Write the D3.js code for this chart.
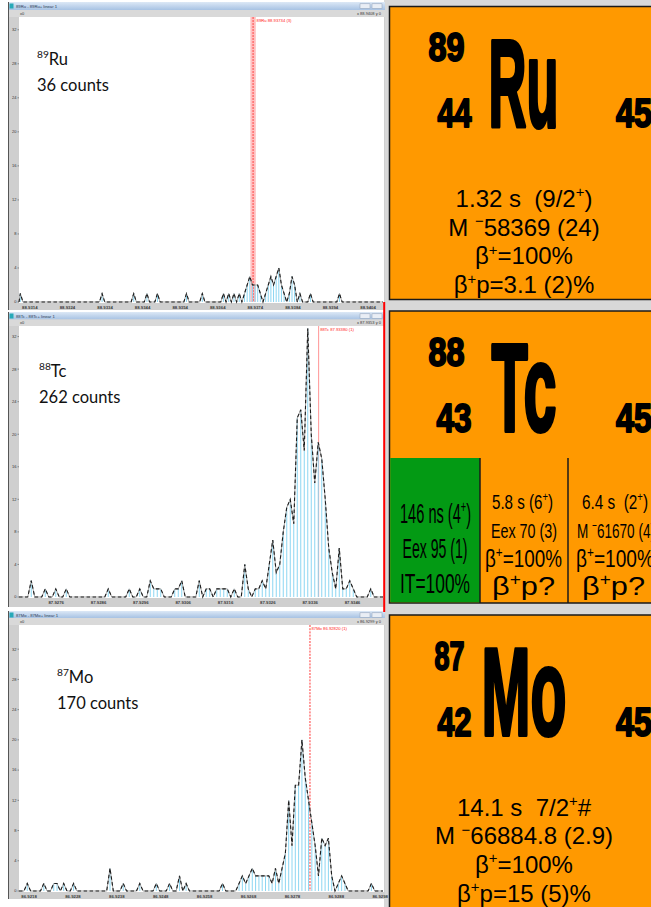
<!DOCTYPE html>
<html>
<head>
<meta charset="utf-8">
<script src="https://cdn.jsdelivr.net/npm/d3@7"></script>
<style>
  html, body { margin: 0; padding: 0; background: #ffffff; }
  svg { display: block; }
</style>
</head>
<body>
<script>
// ---- Spectrum data: counts per bin --------------------------------------
const ruCounts = [
  1,0,0,0,0,0,0,0,0,0,
  0,0,0,0,0,0,0,0,0,0,
  0,0,0,0,0,0,0,0,0,0,
  0,1,0,0,0,0,0,0,0,0,
  0,0,0,1,0,0,0,0,1,0,
  0,0,1,0,0,0,0,0,0,0,
  0,0,0,1,0,0,0,0,0,1,
  0,0,0,0,0,0,0,1,0,1,
  0,1,0,1,0,1,2,3,2,2,
  2,1,0,1,2,3,2,3,4,2,
  1,0,1,3,2,0,1,0,0,0,
  1,0,0,0,0,0,0,0,0,0,
  0,1,0,0,0,0,0,0,0,0,
  0,0,0,0,0,0,0,0
];
const tcCounts = [
  0,0,0,2,0,0,0,1,0,0,
  1,0,0,1,0,0,0,0,0,0,
  0,0,0,0,0,1,0,0,0,0,
  0,1,0,0,1,0,0,2,1,1,
  1,0,0,0,1,1,2,0,0,0,
  0,2,0,1,1,0,1,1,1,1,
  0,1,0,0,4,1,0,1,1,2,
  1,4,7,3,4,8,11,12,9,22,
  23,18,33,20,14,19,17,12,6,3,
  1,6,1,1,2,1,0,0,0,0,
  1,0,0,0
];
const moCounts = [
  0,0,1,0,0,0,0,1,0,0,
  1,1,0,1,0,0,1,0,0,0,
  0,0,0,0,0,0,0,3,0,0,
  0,1,0,0,0,0,1,0,0,0,
  0,1,0,0,0,1,0,0,2,0,
  1,0,0,0,0,0,0,0,0,0,
  0,1,0,0,0,0,1,2,1,2,
  3,2,2,2,2,2,1,3,1,3,
  5,12,6,14,14,20,15,12,9,6,
  2,7,6,7,2,0,1,2,1,0,
  0,0,0,0,0,0,1,0,0,0
];

// Mass axis of each spectrum (u): first bin edge and bin width
const ruMassStart = 88.93111, ruBinWidth = 0.0000702;
const tcMassStart = 87.92672, tcBinWidth = 0.0000827;
const moMassStart = 86.92157, moBinWidth = 0.0000754;

// Axis ticks
const yTickValues = [0, 4, 8, 12, 16, 20, 24, 28, 32];
const ruYMax = 33.5, tcYMax = 33.3, moYMax = 35.2;
const ruXTicks = [88.9314, 88.9324, 88.9334, 88.9344, 88.9354, 88.9364, 88.9374, 88.9384, 88.9394, 88.9404];
const tcXTicks = [87.9276, 87.9286, 87.9296, 87.9306, 87.9316, 87.9326, 87.9336, 87.9346];
const moXTicks = [86.9218, 86.9228, 86.9238, 86.9248, 86.9258, 86.9268, 86.9278, 86.9288, 86.9298];

// Reference masses (u) marked in red
const ruRefMass = 88.93734;
const tcRefMass = 87.93380;
const moRefMass = 86.92820;

// Nuclide labels
const nuclideMass = ["89", "88", "87"];
const nuclideSymbol = ["Ru", "Tc", "Mo"];
const nuclideZ = ["44", "43", "42"];
const totalCounts = [36, 262, 170];

// -------------------------------------------------------------------------
const W = 651, H = 907;
const svg = d3.select("body").append("svg").attr("width", W).attr("height", H);

const defs = svg.append("defs");
const grad = defs.append("linearGradient").attr("id", "titleGrad")
  .attr("x1", 0).attr("y1", 0).attr("x2", 0).attr("y2", 1);
grad.append("stop").attr("offset", 0).attr("stop-color", "#dce8f6");
grad.append("stop").attr("offset", 1).attr("stop-color", "#a7c2e3");

const NARROW = "'Liberation Sans Narrow', 'Liberation Sans', Arial, sans-serif";
const SANS = "'Liberation Sans', Arial, sans-serif";
const LABEL = "Lato, 'Open Sans', sans-serif";

// text with superscript pieces: plain strings are normal, [str] is superscript
function richText(g, x, y, parts, o) {
  const t = g.append("text")
    .attr("x", x).attr("y", y)
    .attr("font-family", o.family).attr("font-size", o.size)
    .attr("font-weight", o.weight || 400)
    .attr("fill", o.fill || "#000")
    .attr("text-anchor", o.anchor || "start")
    .style("white-space", "pre");
  let shifted = 0;
  parts.forEach(p => {
    const sup = Array.isArray(p);
    const ts = t.append("tspan").text(sup ? p[0] : p);
    const want = sup ? -o.size * 0.4 : 0;
    if (want !== shifted) { ts.attr("dy", want - shifted); shifted = want; }
    if (sup) ts.attr("font-size", o.size * (o.supScale || 0.62));
  });
  if (o.width) t.attr("textLength", o.width).attr("lengthAdjust", "spacingAndGlyphs");
  if (o.stroke) t.attr("stroke", o.fill || "#000").attr("stroke-width", o.stroke).attr("stroke-linejoin", "round");
  return t;
}

// right-hand column background
svg.append("rect").attr("x", 384).attr("y", 0).attr("width", W - 384).attr("height", H).attr("fill", "#d8d8d8");

// ---- Spectrum panels ------------------------------------------------------
const panels = [
  { counts: ruCounts, start: ruMassStart, bw: ruBinWidth, yMax: ruYMax, xTicks: ruXTicks, ref: ruRefMass,
    refText: "89Ru  88.93734 (3)", title: "89Ru - 89Ru+  linear 1", band: true,
    top: 2, strip: 10, plotTop: 17, base: 302, bottom: 310, labelX: 37, labelY: 65 },
  { counts: tcCounts, start: tcMassStart, bw: tcBinWidth, yMax: tcYMax, xTicks: tcXTicks, ref: tcRefMass,
    refText: "88Tc  87.93380 (1)", title: "88Tc - 88Tc+  linear 1", band: false,
    top: 312, strip: 319.5, plotTop: 326, base: 597, bottom: 607, labelX: 39, labelY: 377 },
  { counts: moCounts, start: moMassStart, bw: moBinWidth, yMax: moYMax, xTicks: moXTicks, ref: moRefMass,
    refText: "87Mo  86.92820 (1)", title: "87Mo - 87Mo+  linear 1", band: false, dashedRef: true,
    top: 611, strip: 618, plotTop: 625, base: 891, bottom: 899, labelX: 57, labelY: 683 }
];

const PL = 8, PX0 = 19, PX1 = 383, PR = 385;
const fmt = d3.format(".4f");

panels.forEach((p, k) => {
  const g = svg.append("g");
  const n = p.counts.length;
  const x = d3.scaleLinear().domain([p.start, p.start + n * p.bw]).range([PX0, PX1]);
  const y = d3.scaleLinear().domain([0, p.yMax]).range([p.base, p.plotTop]);
  const bins = p.counts.map((c, i) => ({ m: p.start + (i + 0.5) * p.bw, c }));

  // window frame
  g.append("rect").attr("x", PL).attr("y", p.top).attr("width", PR - PL).attr("height", p.bottom - p.top).attr("fill", "#cfcfcf");
  g.append("rect").attr("x", PL).attr("y", p.top).attr("width", PR - PL).attr("height", p.strip - p.top).attr("fill", "url(#titleGrad)");
  g.append("rect").attr("x", 9.5).attr("y", p.top + 1.5).attr("width", 4).attr("height", 5).attr("fill", "#27a9b8");
  g.append("text").attr("x", 16).attr("y", p.top + 6).attr("font-family", SANS).attr("font-size", 4.2).attr("fill", "#2b3a55").text(p.title);
  g.append("rect").attr("x", 360).attr("y", p.top + 1.8).attr("width", 10).attr("height", 4.6).attr("fill", "#e9eef5").attr("stroke", "#8a9bb3").attr("stroke-width", 0.5);
  g.append("rect").attr("x", 372).attr("y", p.top + 1.8).attr("width", 10).attr("height", 4.6).attr("fill", "#e9eef5").attr("stroke", "#8a9bb3").attr("stroke-width", 0.5);
  g.append("rect").attr("x", PL).attr("y", p.strip).attr("width", PR - PL).attr("height", p.plotTop - p.strip).attr("fill", "#d9d9d9");
  g.append("text").attr("x", 20).attr("y", p.plotTop - 1.6).attr("font-family", SANS).attr("font-size", 4).attr("fill", "#333").text("x0");
  g.append("text").attr("x", 381).attr("y", p.plotTop - 1.6).attr("text-anchor", "end").attr("font-family", SANS).attr("font-size", 4).attr("fill", "#333")
    .text("x " + fmt(p.start + n * p.bw) + "  y 0");
  g.append("line").attr("x1", PL + 0.5).attr("x2", PL + 0.5).attr("y1", p.top).attr("y2", p.bottom).attr("stroke", "#555").attr("stroke-width", 1);

  // plot area
  g.append("rect").attr("x", PX0).attr("y", p.plotTop).attr("width", PR - PX0 - 1).attr("height", p.base - p.plotTop + 1).attr("fill", "#ffffff");

  // y axis
  yTickValues.forEach(v => {
    g.append("line").attr("x1", PX0 - 1.5).attr("x2", PX0).attr("y1", y(v)).attr("y2", y(v)).attr("stroke", "#555").attr("stroke-width", 0.6);
    g.append("text").attr("x", PX0 - 2.5).attr("y", y(v) + 1.4).attr("text-anchor", "end")
      .attr("font-family", SANS).attr("font-size", 4).attr("fill", "#333").text(v);
  });

  // x axis labels
  p.xTicks.forEach(v => {
    g.append("text").attr("x", x(v)).attr("y", p.base + 6.5).attr("text-anchor", "middle")
      .attr("font-family", SANS).attr("font-size", 4.3).attr("font-weight", 700).attr("fill", "#3a3a3a").text(fmt(v));
  });

  // reference mass marker
  const rx = x(p.ref);
  if (p.band) {
    g.append("rect").attr("x", rx - 2.7).attr("y", p.plotTop).attr("width", 5.4).attr("height", p.base - p.plotTop)
      .attr("fill", "#ff8c8c").attr("opacity", 0.55);
    g.append("line").attr("x1", rx).attr("x2", rx).attr("y1", p.plotTop).attr("y2", p.base)
      .attr("stroke", "#ff2a2a").attr("stroke-width", 0.8).attr("stroke-dasharray", "2,1");
  } else {
    g.append("line").attr("x1", rx).attr("x2", rx).attr("y1", p.plotTop).attr("y2", p.base)
      .attr("stroke", p.dashedRef ? "#ff2020" : "#ff7a7a").attr("stroke-width", p.dashedRef ? 0.9 : 0.8)
      .attr("stroke-dasharray", p.dashedRef ? "2,1.2" : null);
  }
  g.append("text").attr("x", rx + (p.band ? 3.5 : 1.5)).attr("y", p.plotTop + 5).attr("font-family", SANS)
    .attr("font-size", 4.2).attr("fill", "#ff2020").text(p.refText);

  // bin stems
  g.selectAll("line.stem").data(bins.filter(b => b.c > 0)).join("line").attr("class", "stem")
    .attr("x1", b => x(b.m)).attr("x2", b => x(b.m))
    .attr("y1", p.base).attr("y2", b => y(b.c))
    .attr("stroke", "#8cd6f2").attr("stroke-width", 1);

  // spectrum trace: grey solid under black dashes
  const line = d3.line().x(b => x(b.m)).y(b => y(b.c));
  const pts = [{ m: p.start, c: 0 }, ...bins, { m: p.start + n * p.bw, c: 0 }];
  g.append("path").datum(pts).attr("d", line).attr("fill", "none").attr("stroke", "#a3a3a3").attr("stroke-width", 1);
  g.append("path").datum(pts).attr("d", line).attr("fill", "none").attr("stroke", "#1c1c1c")
    .attr("stroke-width", 1.1).attr("stroke-dasharray", "3.5,2.5");

  // nuclide label and count total
  richText(g, p.labelX, p.labelY, [[nuclideMass[k]], nuclideSymbol[k]],
    { family: LABEL, size: 16.5, fill: "#111", supScale: 0.62 });
  richText(g, p.labelX, p.labelY + 26, [totalCounts[k] + " counts"],
    { family: LABEL, size: 16.5, fill: "#111" });
});

// red frame edge beside the middle spectrum
svg.append("rect").attr("x", 383.2).attr("y", 302).attr("width", 2).attr("height", 310).attr("fill", "#ff0000");

// ---- Nuclide cards --------------------------------------------------------
const CX = 389.5, CW = 275, CC = 524;
const cards = [
  { top: 6.5, bottom: 299.5, symX: 488.5, symW: 70, massW: 36, zW: 34,
    lines: [
      ["1.32 s  (9/2", ["+"], ")"],
      ["M ", ["\u2212"], "58369 (24)"],
      ["\u03b2", ["+"], "=100%"],
      ["\u03b2", ["+"], "p=3.1 (2)%"]
    ] },
  { top: 311, bottom: 603, symX: 491.5, symW: 65, massW: 36, zW: 35, lines: null },
  { top: 615, bottom: 920, symX: 481.5, symW: 85, massW: 30, zW: 34,
    lines: [
      ["14.1 s  7/2", ["+"], "#"],
      ["M ", ["\u2212"], "66884.8 (2.9)"],
      ["\u03b2", ["+"], "=100%"],
      ["\u03b2", ["+"], "p=15 (5)%"]
    ] }
];

cards.forEach((c, k) => {
  const g = svg.append("g");
  g.append("rect").attr("x", CX).attr("y", c.top).attr("width", CW).attr("height", c.bottom - c.top)
    .attr("fill", "#ff9900").attr("stroke", "#1a1a1a").attr("stroke-width", 1.5);

  const t = c.top;
  // mass number, atomic number, symbol, neutron number
  richText(g, 464.5, t + 54.5, [nuclideMass[k]], { family: NARROW, size: 40, weight: 700, anchor: "end", width: c.massW, stroke: 2 });
  richText(g, 471.5, t + 120.5, [nuclideZ[k]], { family: NARROW, size: 40, weight: 700, anchor: "end", width: c.zW, stroke: 2 });
  richText(g, c.symX, t + 120, [nuclideSymbol[k]], { family: NARROW, size: 125, weight: 700, width: c.symW, stroke: 4.2 });
  richText(g, 616, t + 120.5, ["45"], { family: NARROW, size: 40, weight: 700, width: 36, stroke: 2 });

  if (c.lines) {
    c.lines.forEach((ln, i) => {
      richText(g, CC, t + 200.5 + i * 28.7, ln, { family: SANS, size: 24, anchor: "middle" });
    });
  }
});

// isomer / state boxes of the 88Tc card
(function () {
  const g = svg.append("g");
  const y0 = 458, y1 = 603;
  g.append("rect").attr("x", CX + 0.75).attr("y", y0).attr("width", 480 - CX - 0.75).attr("height", y1 - y0 - 0.75).attr("fill", "#039a14");
  g.append("line").attr("x1", 480).attr("x2", 480).attr("y1", y0).attr("y2", y1).attr("stroke", "#1a1a1a").attr("stroke-width", 1.5);
  g.append("line").attr("x1", 568).attr("x2", 568).attr("y1", y0).attr("y2", y1).attr("stroke", "#1a1a1a").attr("stroke-width", 1.5);

  const nb = { family: NARROW, anchor: "middle" };
  richText(g, 435.5, 523, ["146 ns (4", ["+"], ")"], { ...nb, size: 27, width: 71 });
  richText(g, 435, 558, ["Eex 95 (1)"], { ...nb, size: 27, width: 65 });
  richText(g, 435, 593, ["IT=100%"], { ...nb, size: 27, width: 70 });

  richText(g, 522.5, 509, ["5.8 s (6", ["+"], ")"], { ...nb, size: 21, width: 61 });
  richText(g, 524, 538, ["Eex 70 (3)"], { ...nb, size: 21, width: 66 });
  richText(g, 523.5, 566.5, ["\u03b2", ["+"], "=100%"], { ...nb, family: SANS, size: 23, width: 77 });
  richText(g, 523.5, 595, ["\u03b2", ["+"], "p?"], { family: SANS, anchor: "middle", size: 26, width: 63 });

  richText(g, 615, 509, ["6.4 s  (2", ["+"], ")"], { ...nb, size: 21, width: 66 });
  richText(g, 577, 538, ["M ", ["\u2212"], "61670 (4)"], { family: NARROW, size: 21, width: 78 });
  richText(g, 576, 566.5, ["\u03b2", ["+"], "=100%"], { family: SANS, size: 23, width: 78 });
  richText(g, 613.5, 595, ["\u03b2", ["+"], "p?"], { family: SANS, anchor: "middle", size: 26, width: 63 });
})();
</script>
</body>
</html>
